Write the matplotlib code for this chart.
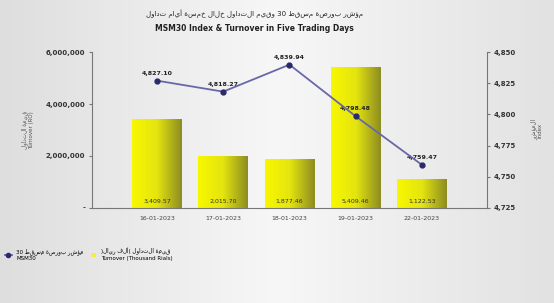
import numpy as np
import matplotlib.pyplot as plt
from matplotlib.patches import Rectangle
from matplotlib.lines import Line2D
from matplotlib.colors import LinearSegmentedColormap

# datos
fechas = ["16-01-2023", "17-01-2023", "18-01-2023", "19-01-2023", "22-01-2023"]
turnover = [3409570, 2015700, 1877460, 5409460, 1122530]
indice = [4827.10, 4818.27, 4839.94, 4798.48, 4759.47]


def ar(s):
    # orden visual de derecha a izquierda (solo las palabras arabes se invierten)
    palabras = s.split(" ")[::-1]
    return " ".join(p if p.isascii() else p[::-1] for p in palabras)


plt.rcParams['font.family'] = ['DejaVu Sans']
fig = plt.figure(figsize=(5.54, 3.03), dpi=100)
fig.patch.set_facecolor('#ececec')

# fondo degradado
bg = fig.add_axes([0, 0, 1, 1], zorder=-10)
grad = np.linspace(0, 1, 256).reshape(1, -1)
bg.imshow(grad, aspect='auto', cmap=LinearSegmentedColormap.from_list('bg', ['#dedede', '#f7f7f7', '#e2e2e2']),
          extent=[0, 1, 0, 1])
bg.axis('off')

ax = fig.add_axes([0.166, 0.314, 0.713, 0.514])
ax.patch.set_alpha(0)
x = np.arange(len(fechas))
ancho = 0.75
cmap_bar = LinearSegmentedColormap.from_list('bar', ['#f8f800', '#e4e410', '#8c8c22'])
barras = ax.bar(x, turnover, width=ancho, color='none', edgecolor='none', zorder=2)
for b in barras:
    im = ax.imshow(grad, aspect='auto', cmap=cmap_bar,
                   extent=[b.get_x(), b.get_x() + b.get_width(), 0, b.get_height()], zorder=2)
    im.set_clip_path(b)
for xi, v in zip(x, turnover):
    ax.text(xi, 150000, f"{v/1000:,.2f}", ha='center', va='bottom', fontsize=4.5, color='#333333', zorder=5)

ax.set_xlim(-0.98, 4.98)
ax.set_ylim(0, 6000000)
ax.set_yticks([0, 2000000, 4000000, 6000000])
ax.set_yticklabels(["-", "2,000,000", "4,000,000", "6,000,000"], fontsize=5, fontweight='bold', color='#333333')
ax.set_xticks(x)
ax.set_xticklabels(fechas, fontsize=4.5, color='#444444')
ax.tick_params(axis='x', length=0, pad=6)
ax.tick_params(axis='y', length=2, color='#777777', pad=3)
for s in ['top', 'right']:
    ax.spines[s].set_visible(False)
ax.spines['left'].set_color('#777777')
ax.spines['bottom'].set_color('#777777')
ax.set_ylabel(ar("قيمة التداول") + "\n" + "Turnover (RO)", fontsize=4, color='#555555', labelpad=8)

ax2 = ax.twinx()
ax2.plot(x, indice, color='#6868a8', lw=1.3, marker='o', ms=3.5, mfc='#2a2a6a', mec='#2a2a6a', zorder=6)
for xi, v in zip(x, indice):
    ax2.text(xi, v + 4, f"{v:,.2f}", ha='center', va='bottom', fontsize=4.5, fontweight='bold', color='#222222')
ax2.set_ylim(4725, 4850)
ax2.set_yticks([4725, 4750, 4775, 4800, 4825, 4850])
ax2.set_yticklabels([f"{t:,}" for t in [4725, 4750, 4775, 4800, 4825, 4850]], fontsize=5, fontweight='bold', color='#333333')
ax2.tick_params(axis='y', length=2, color='#777777', pad=3)
ax2.spines['top'].set_visible(False)
ax2.spines['left'].set_visible(False)
ax2.spines['bottom'].set_visible(False)
ax2.spines['right'].set_color('#777777')
ax2.set_ylabel(ar("المؤشر") + "\nIndex", fontsize=4, color='#555555', rotation=90, labelpad=10)

fig.text(0.46, 0.955, ar("مؤشر بورصة مسقط 30 وقيم التداول خلال خمسة أيام تداول"), ha='center', va='center',
         fontsize=5, color='#222222')
fig.text(0.46, 0.905, "MSM30 Index & Turnover in Five Trading Days", ha='center', va='center',
         fontsize=5.5, fontweight='bold', color='#222222')

h1 = Line2D([], [], color='#6868a8', lw=1.3, marker='o', ms=3, mfc='#2a2a6a', mec='#2a2a6a')
h2 = Rectangle((0, 0), 1, 1, facecolor='#f0f040', edgecolor='none')
fig.legend([h1], [ar("مؤشر بورصة مسقط 30") + "\nMSM30"], loc='center left', bbox_to_anchor=(0.0, 0.16),
           fontsize=4, frameon=False, handlelength=1.2, handletextpad=0.8)
fig.legend([h2], [ar("قيمة التداول (ألف ريال)") + "\nTurnover (Thousand Rials)"], loc='center left',
           bbox_to_anchor=(0.155, 0.16), fontsize=4, frameon=False, handlelength=1.0, handletextpad=0.8)

fig.savefig("out.png", dpi=100, facecolor=fig.get_facecolor())
